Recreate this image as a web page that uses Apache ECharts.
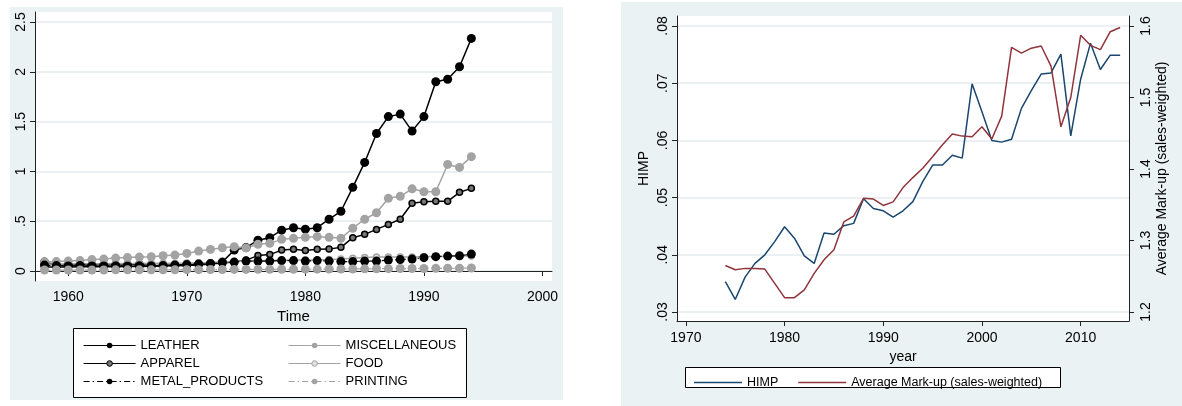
<!DOCTYPE html>
<html>
<head>
<meta charset="utf-8">
<script src="https://cdn.jsdelivr.net/npm/echarts@6/dist/echarts.min.js"></script>
<style>html,body{margin:0;padding:0;background:#fff;}#c{width:1182px;height:406px;}</style>
</head>
<body>
<div id="c"></div>
<script>
// ---------- Left panel data ----------
const yearsL = [1958,1959,1960,1961,1962,1963,1964,1965,1966,1967,1968,1969,1970,1971,1972,1973,1974,1975,1976,1977,1978,1979,1980,1981,1982,1983,1984,1985,1986,1987,1988,1989,1990,1991,1992,1993,1994];
const leather = [0.09,0.06,0.06,0.065,0.06,0.06,0.06,0.06,0.065,0.055,0.055,0.06,0.065,0.07,0.075,0.09,0.21,0.235,0.31,0.335,0.41,0.435,0.42,0.435,0.52,0.60,0.84,1.09,1.38,1.55,1.575,1.405,1.55,1.90,1.925,2.05,2.335];
const miscellaneous = [0.09,0.095,0.10,0.105,0.115,0.12,0.13,0.135,0.14,0.144,0.154,0.16,0.177,0.20,0.217,0.234,0.244,0.232,0.268,0.278,0.318,0.328,0.338,0.345,0.338,0.328,0.43,0.52,0.585,0.73,0.75,0.825,0.796,0.796,1.07,1.04,1.148];
const apparel = [0.04,0.04,0.04,0.042,0.042,0.043,0.044,0.045,0.046,0.047,0.05,0.052,0.055,0.06,0.07,0.08,0.09,0.11,0.155,0.165,0.21,0.218,0.205,0.218,0.22,0.238,0.335,0.368,0.418,0.468,0.52,0.68,0.696,0.70,0.70,0.79,0.83];
const food = [0.07,0.07,0.07,0.072,0.072,0.074,0.075,0.075,0.076,0.077,0.078,0.079,0.08,0.082,0.085,0.09,0.095,0.1,0.104,0.106,0.108,0.11,0.11,0.112,0.115,0.12,0.128,0.135,0.14,0.14,0.142,0.142,0.145,0.145,0.148,0.15,0.15];
const metalProducts = [0.06,0.055,0.05,0.055,0.05,0.05,0.052,0.05,0.052,0.052,0.055,0.06,0.065,0.07,0.075,0.085,0.09,0.1,0.1,0.1,0.105,0.105,0.1,0.105,0.1,0.095,0.095,0.1,0.1,0.11,0.115,0.12,0.134,0.144,0.15,0.154,0.17];
const printing = [0.01,0.01,0.01,0.01,0.01,0.01,0.012,0.012,0.012,0.012,0.013,0.013,0.014,0.014,0.015,0.015,0.016,0.016,0.017,0.017,0.018,0.018,0.019,0.019,0.02,0.02,0.021,0.022,0.023,0.024,0.025,0.025,0.026,0.027,0.028,0.028,0.03];
const xTicksL = [1960,1970,1980,1990,2000];
const yTicksL = [0,0.5,1,1.5,2,2.5];

// ---------- Right panel data ----------
const yearsR = [1974,1975,1976,1977,1978,1979,1980,1981,1982,1983,1984,1985,1986,1987,1988,1989,1990,1991,1992,1993,1994,1995,1996,1997,1998,1999,2000,2001,2002,2003,2004,2005,2006,2007,2008,2009,2010,2011,2012,2013,2014];
const himp = [0.0353,0.0322,0.0361,0.0385,0.0400,0.0423,0.0449,0.0429,0.0398,0.0385,0.0438,0.0436,0.0451,0.0455,0.0498,0.0481,0.0477,0.0466,0.0477,0.0493,0.0528,0.0557,0.0557,0.0574,0.0569,0.0699,0.0650,0.0600,0.0597,0.0602,0.0656,0.0687,0.0716,0.0718,0.0751,0.0608,0.0707,0.0770,0.0724,0.0749,0.0749];
const markup = [1.265,1.259,1.261,1.261,1.260,1.240,1.220,1.220,1.231,1.254,1.273,1.287,1.326,1.334,1.359,1.358,1.349,1.354,1.374,1.388,1.401,1.417,1.434,1.449,1.446,1.445,1.459,1.442,1.474,1.570,1.562,1.569,1.572,1.544,1.459,1.500,1.587,1.573,1.567,1.592,1.598];
const xTicksR = [1970,1980,1990,2000,2010];
const yTicksRL = [0.03,0.04,0.05,0.06,0.07,0.08];
const yTicksRR = [1.2,1.3,1.4,1.5,1.6];

const FONT = 'Liberation Sans, Arial, sans-serif';
const BLACK = '#000';
const GRAY = '#a3a3a3';
const GRID = '#e4ecef';
const PANEL = '#eaf2f3';

function pairs(xs, ys) { return xs.map((x, i) => [x, ys[i]]); }
function stataNum(v) {
  let s = String(Math.round(v * 1000) / 1000);
  if (s.startsWith('0.')) s = s.slice(1);
  return s;
}
function plainNum(v) { return String(v); }

const axisLineStyle = { show: true, lineStyle: { color: '#222', width: 1 } };
const tickStyle = { show: true, length: 5, lineStyle: { color: '#222', width: 1 } };
const labelBase = { color: '#000', fontFamily: FONT, fontSize: 14 };

const dashDot = [6, 3, 1.5, 3];

const chart = echarts.init(document.getElementById('c'), null, { renderer: 'canvas' });
chart.setOption({
  animation: false,
  backgroundColor: '#fff',
  graphic: [
    { type: 'rect', z: -100, shape: { x: 10, y: 7, width: 553, height: 393 }, style: { fill: PANEL } },
    { type: 'rect', z: -100, shape: { x: 621, y: 2, width: 561, height: 404 }, style: { fill: PANEL } },
    { type: 'rect', z: 1, shape: { x: 73.5, y: 328.5, width: 393, height: 69 }, style: { fill: '#fff', stroke: '#000', lineWidth: 1 } },
    { type: 'rect', z: 1, shape: { x: 685.5, y: 367.5, width: 375, height: 20 }, style: { fill: '#fff', stroke: '#000', lineWidth: 1 } }
  ],
  grid: [
    { left: 35, top: 12, width: 517, height: 269, show: true, backgroundColor: '#fff', borderWidth: 0 },
    { left: 677, top: 16, width: 452, height: 305, show: true, backgroundColor: '#fff', borderWidth: 0 }
  ],
  xAxis: [
    {
      type: 'value', gridIndex: 0, min: 1957.2, max: 2000.8,
      name: 'Time', nameLocation: 'middle', nameGap: 18,
      nameTextStyle: { color: '#000', fontFamily: FONT, fontSize: 15 },
      axisLine: axisLineStyle,
      axisTick: Object.assign({}, tickStyle, { customValues: xTicksL }),
      axisLabel: Object.assign({}, labelBase, { customValues: xTicksL, margin: 9, formatter: plainNum }),
      splitLine: { show: false }
    },
    {
      type: 'value', gridIndex: 1, min: 1969.1, max: 2014.9,
      name: 'year', nameLocation: 'middle', nameGap: 17,
      nameTextStyle: { color: '#000', fontFamily: FONT, fontSize: 14 },
      axisLine: axisLineStyle,
      axisTick: Object.assign({}, tickStyle, { customValues: xTicksR }),
      axisLabel: Object.assign({}, labelBase, { customValues: xTicksR, margin: 10, formatter: plainNum }),
      splitLine: { show: false }
    }
  ],
  yAxis: [
    {
      type: 'value', gridIndex: 0, min: -0.1, max: 2.6,
      axisLine: axisLineStyle,
      axisTick: Object.assign({}, tickStyle, { customValues: yTicksL }),
      axisLabel: Object.assign({}, labelBase, { customValues: yTicksL, rotate: 90, margin: 7, formatter: stataNum }),
      splitLine: { show: true, customValues: yTicksL, lineStyle: { color: GRID, width: 1.5 } }
    },
    {
      type: 'value', gridIndex: 1, position: 'left', min: 0.02843, max: 0.08175,
      name: 'HIMP', nameLocation: 'middle', nameGap: 26, nameRotate: 90,
      nameTextStyle: { color: '#000', fontFamily: FONT, fontSize: 14 },
      axisLine: axisLineStyle,
      axisTick: Object.assign({}, tickStyle, { customValues: yTicksRL }),
      axisLabel: Object.assign({}, labelBase, { customValues: yTicksRL, rotate: 90, margin: 7, formatter: stataNum }),
      splitLine: { show: true, customValues: yTicksRL, lineStyle: { color: GRID, width: 1.5 } }
    },
    {
      type: 'value', gridIndex: 1, position: 'right', min: 1.1874, max: 1.614,
      name: 'Average Mark-up (sales-weighted)', nameLocation: 'middle', nameGap: 26, nameRotate: 90,
      nameTextStyle: { color: '#000', fontFamily: FONT, fontSize: 14 },
      axisLine: axisLineStyle,
      axisTick: Object.assign({}, tickStyle, { customValues: yTicksRR }),
      axisLabel: Object.assign({}, labelBase, { customValues: yTicksRR, rotate: 90, margin: 10, formatter: stataNum }),
      splitLine: { show: false }
    }
  ],
  legend: [
    {
      orient: 'vertical', left: 78, top: 334, itemWidth: 52, itemHeight: 7, itemGap: 5,
      lineStyle: { width: 1.2 },
      data: ['LEATHER', { name: 'APPAREL', itemStyle: { borderWidth: 1 } }, 'METAL_PRODUCTS'],
      textStyle: { color: '#000', fontFamily: FONT, fontSize: 13 }
    },
    {
      orient: 'vertical', left: 283, top: 334, itemWidth: 52, itemHeight: 7, itemGap: 5,
      lineStyle: { width: 1.2 },
      data: ['MISCELLANEOUS', { name: 'FOOD', itemStyle: { borderWidth: 1 } }, 'PRINTING'],
      textStyle: { color: '#000', fontFamily: FONT, fontSize: 13 }
    },
    {
      orient: 'horizontal', left: 689, top: 371, itemWidth: 48, itemHeight: 1.5, itemGap: 20,
      icon: 'rect',
      data: ['HIMP', 'Average Mark-up (sales-weighted)'],
      textStyle: { color: '#000', fontFamily: FONT, fontSize: 12.5 }
    }
  ],
  series: [
    { name: 'LEATHER', type: 'line', xAxisIndex: 0, yAxisIndex: 0, data: pairs(yearsL, leather),
      symbol: 'circle', symbolSize: 9, lineStyle: { color: BLACK, width: 1.5 }, itemStyle: { color: BLACK } },
    { name: 'MISCELLANEOUS', type: 'line', xAxisIndex: 0, yAxisIndex: 0, data: pairs(yearsL, miscellaneous),
      symbol: 'circle', symbolSize: 9, lineStyle: { color: GRAY, width: 1.5 }, itemStyle: { color: GRAY } },
    { name: 'APPAREL', type: 'line', xAxisIndex: 0, yAxisIndex: 0, data: pairs(yearsL, apparel),
      symbol: 'circle', symbolSize: 6, lineStyle: { color: BLACK, width: 1.5 }, itemStyle: { color: '#777', borderColor: BLACK, borderWidth: 1.5 } },
    { name: 'FOOD', type: 'line', xAxisIndex: 0, yAxisIndex: 0, data: pairs(yearsL, food),
      symbol: 'circle', symbolSize: 6, lineStyle: { color: GRAY, width: 1.5 }, itemStyle: { color: '#e0e0e0', borderColor: GRAY, borderWidth: 1.5 } },
    { name: 'METAL_PRODUCTS', type: 'line', xAxisIndex: 0, yAxisIndex: 0, data: pairs(yearsL, metalProducts),
      symbol: 'circle', symbolSize: 9, lineStyle: { color: BLACK, width: 1.2, type: dashDot }, itemStyle: { color: BLACK } },
    { name: 'PRINTING', type: 'line', xAxisIndex: 0, yAxisIndex: 0, data: pairs(yearsL, printing),
      symbol: 'circle', symbolSize: 9, lineStyle: { color: GRAY, width: 1.2, type: dashDot }, itemStyle: { color: GRAY } },
    { name: 'HIMP', type: 'line', xAxisIndex: 1, yAxisIndex: 1, data: pairs(yearsR, himp),
      symbol: 'none', lineStyle: { color: '#1a476f', width: 1.5 }, itemStyle: { color: '#1a476f' } },
    { name: 'Average Mark-up (sales-weighted)', type: 'line', xAxisIndex: 1, yAxisIndex: 2, data: pairs(yearsR, markup),
      symbol: 'none', lineStyle: { color: '#90353b', width: 1.5 }, itemStyle: { color: '#90353b' } }
  ]
});
</script>
</body>
</html>
